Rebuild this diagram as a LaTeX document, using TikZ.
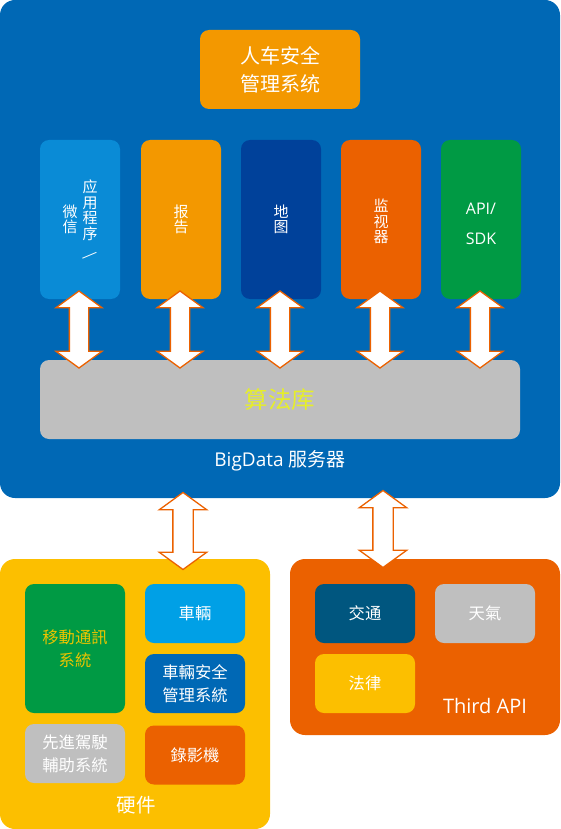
\documentclass[tikz,border=0pt]{standalone}
\usepackage{fontspec}
\setmainfont{Open Sans}
\newfontfamily\cjk{Noto Sans CJK SC}
\usetikzlibrary{shapes.arrows, positioning, calc}

\definecolor{serverblue}{HTML}{0068B5}
\definecolor{sunorange}{HTML}{F39800}
\definecolor{skyblue}{HTML}{0A8BD6}
\definecolor{navyblue}{HTML}{00419A}
\definecolor{deeporange}{HTML}{EB6100}
\definecolor{leafgreen}{HTML}{009A44}
\definecolor{softgray}{HTML}{BFBFBF}
\definecolor{limetext}{HTML}{E6EE2A}
\definecolor{goldyellow}{HTML}{FCBF00}
\definecolor{goldtext}{HTML}{ECC400}
\definecolor{cyanblue}{HTML}{00A0E6}
\definecolor{tealblue}{HTML}{00567F}

\begin{document}
\begin{tikzpicture}[
    x=1pt, y=-1pt,
    panel/.style={draw=none, rounded corners=15pt, inner sep=0pt},
    block/.style={draw=none, rounded corners=9pt, inner sep=0pt, text=white, align=center},
    column/.style={block, minimum width=80pt, minimum height=159pt},
    tile/.style={block, minimum width=100pt, minimum height=59pt, font=\cjk\fontsize{16.3}{23}\selectfont},
    vtext/.style={text=white, align=center, inner sep=0pt, font=\cjk\fontsize{15}{15.5}\selectfont},
    caption/.style={text=white, inner sep=0pt},
    twoway/.style={double arrow, draw=deeporange, fill=white, line width=1.3pt,
        minimum height=77pt, double arrow head extend=13.5pt,
        double arrow tip angle=108, inner sep=0pt, rotate=90}]

\useasboundingbox (0,0) rectangle (560,829);

% Server panel
\node[panel, fill=serverblue, minimum width=560pt, minimum height=498pt] (server) at (280,249) {};
\node[block, fill=sunorange, minimum width=160pt, minimum height=79pt,
    font=\cjk\fontsize{20}{28}\selectfont] (mgmt) at (280,69.5) {人车安全\\管理系统};

% Application columns
\node[column, fill=skyblue] (app) at (80,219.5) {};
\node[column, fill=sunorange] (report) at (181,219.5) {};
\node[column, fill=navyblue] (map) at (281,219.5) {};
\node[column, fill=deeporange] (monitor) at (381,219.5) {};
\node[column, fill=leafgreen] (api) at (481,219.5) {};

\node[vtext] (app-r) at ($(app.center)+(10,2)$) {应\\用\\程\\序\\[2pt]\rotatebox{-50}{/}};
\node[vtext] (app-l) at ($(app.center)+(-10,0)$) {微\\信};
\node[vtext] (report-t) at (report.center) {报\\告};
\node[vtext] (map-t) at (map.center) {地\\图};
\node[vtext] (monitor-t) at ($(monitor.center)+(0,2)$) {监\\视\\器};
\node[caption, align=center, font=\fontsize{16}{30}\selectfont] (api-t) at ($(api.center)+(0,4)$) {API/\\SDK};

% Algorithm library
\node[block, fill=softgray, minimum width=480pt, minimum height=79pt, text=limetext,
    font=\cjk\fontsize{23.5}{26}\selectfont] (algo) at (280,399.5) {算法库};
\node[caption, font=\fontsize{19}{20}\selectfont] (server-t) at (280,461) {BigData {\cjk 服务器}};

% Hardware panel
\node[panel, fill=goldyellow, minimum width=270pt, minimum height=270pt] (hardware) at (135,694) {};
\node[block, fill=leafgreen, minimum width=100pt, minimum height=129pt, text=goldtext,
    font=\cjk\fontsize{16.3}{23}\selectfont] (mobile) at (75,648.5) {移動通訊\\系統};
\node[tile, fill=cyanblue] (vehicle) at (195,613.5) {車輛};
\node[tile, fill=serverblue] (vsafety) at (195,683.5) {車輛安全\\管理系統};
\node[tile, fill=softgray] (adas) at (75,753.5) {先進駕駛\\輔助系統};
\node[tile, fill=deeporange] (recorder) at (195,755) {錄影機};
\node[caption, font=\cjk\fontsize{19.5}{20}\selectfont] (hardware-t) at (136,805) {硬件};

% Third party panel
\node[panel, fill=deeporange, minimum width=270pt, minimum height=176pt] (third) at (425,647) {};
\node[tile, fill=tealblue] (traffic) at (365,613.5) {交通};
\node[tile, fill=softgray] (weather) at (485,613.5) {天氣};
\node[tile, fill=goldyellow] (law) at (365,683.5) {法律};
\node[caption, font=\fontsize{20}{22}\selectfont] (third-t) at (485,706) {Third API};

% Two-way arrows
\foreach \col in {app, report, map, monitor, api}
    \node[twoway] (arr-\col) at ($(\col.south |- algo.north)!0.5!(\col.south)+(-1,0)$) {\rule{0pt}{18pt}};
\node[twoway] (arr-hw) at (183,531) {\rule{0pt}{19pt}};
\node[twoway] (arr-third) at (383,529) {\rule{0pt}{19pt}};

\end{tikzpicture}
\end{document}
